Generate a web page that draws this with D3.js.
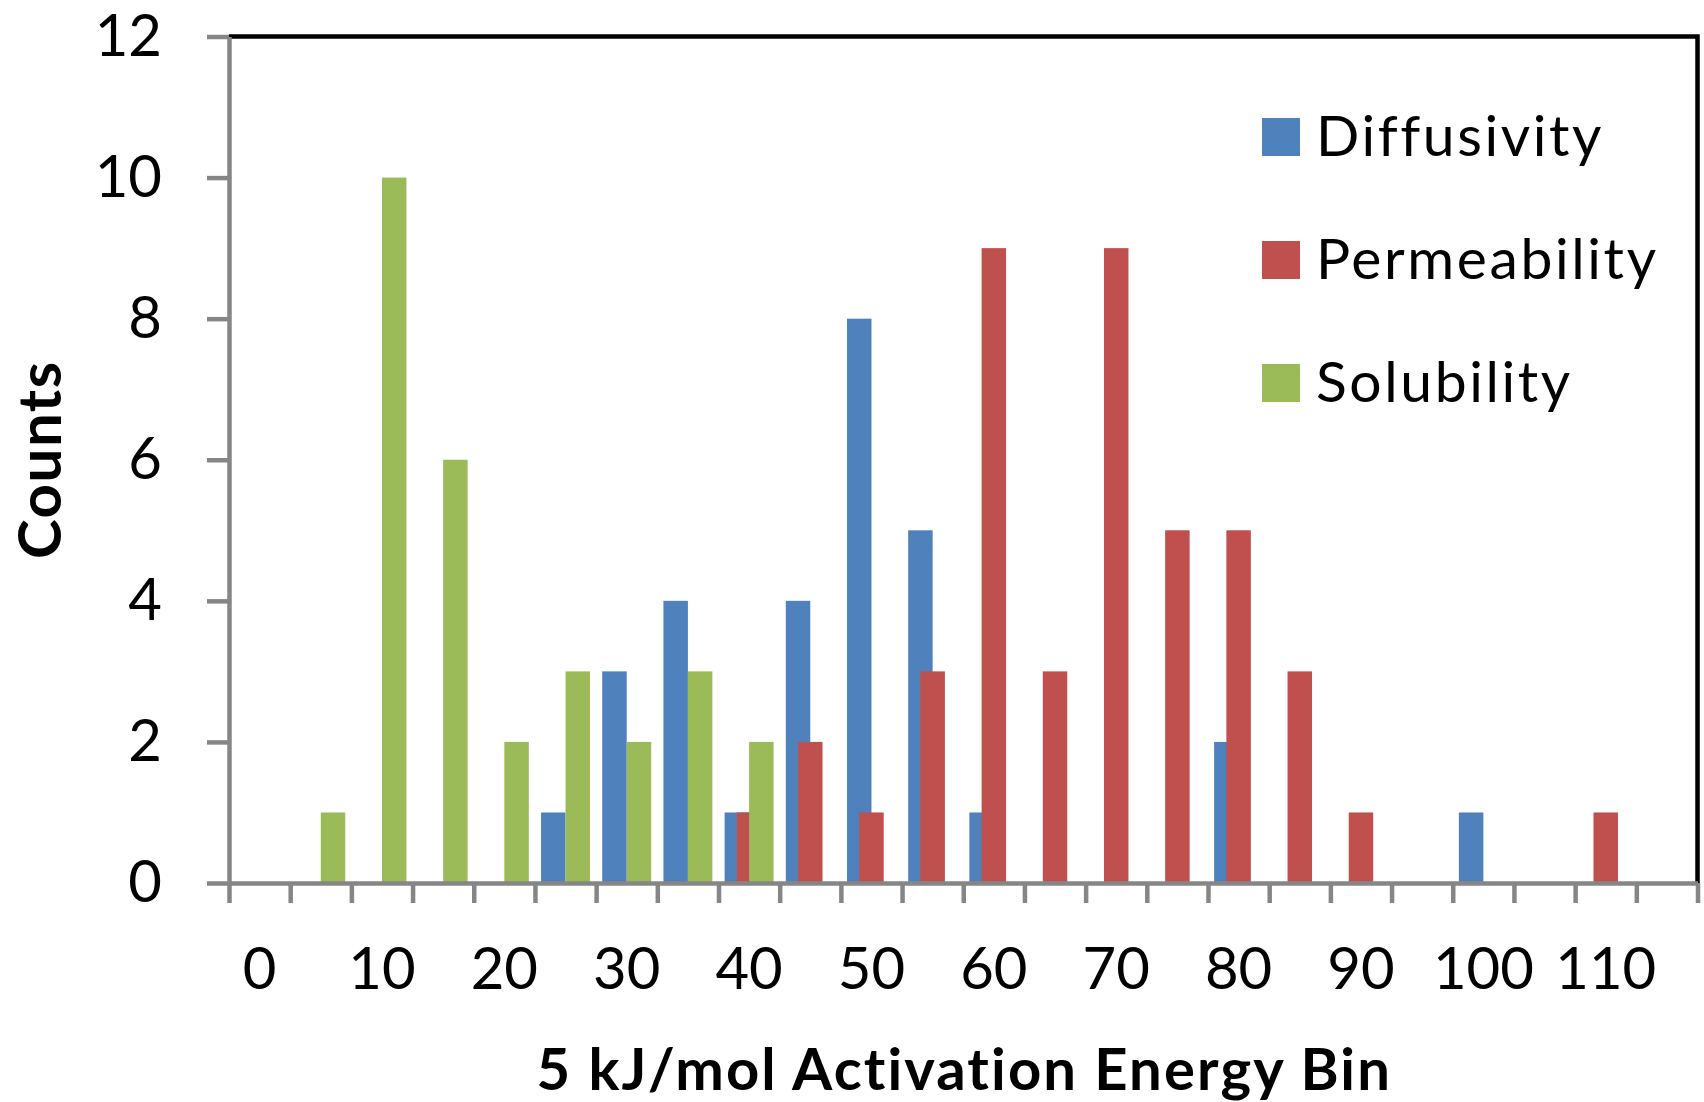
<!DOCTYPE html>
<html>
<head>
<meta charset="utf-8">
<script src="https://cdn.jsdelivr.net/npm/d3@7"></script>
<style>
  html, body { margin: 0; padding: 0; background: #ffffff; }
  svg { display: block; }
  text { font-family: Lato, "Open Sans", sans-serif; fill: #000; font-variant-ligatures: none; }
</style>
</head>
<body>
<svg id="chart" width="1704" height="1102"></svg>
<script>
// Activation energy bins (kJ/mol), 5 kJ/mol wide
const categories = [0, 5, 10, 15, 20, 25, 30, 35, 40, 45, 50, 55, 60, 65, 70, 75, 80, 85, 90, 95, 100, 105, 110, 115];

// Counts per bin for each property
const diffusivity   = [0, 0, 0, 0, 0, 1, 3, 4, 1, 4, 8, 5, 1, 0, 0, 0, 2, 0, 0, 0, 1, 0, 0, 0];
const permeability  = [0, 0, 0, 0, 0, 0, 0, 0, 1, 2, 1, 3, 9, 3, 9, 5, 5, 3, 1, 0, 0, 0, 1, 0];
const solubility    = [0, 1, 10, 6, 2, 3, 2, 3, 2, 0, 0, 0, 0, 0, 0, 0, 0, 0, 0, 0, 0, 0, 0, 0];

const seriesNames  = ["Diffusivity", "Permeability", "Solubility"];
const seriesColors = ["#4F81BD", "#C0504D", "#9BBB59"];

const xTickLabels = [0, 10, 20, 30, 40, 50, 60, 70, 80, 90, 100, 110];
const yTicks = [0, 2, 4, 6, 8, 10, 12];

const series = [diffusivity, permeability, solubility];

const svg = d3.select("#chart");
const plot = { left: 229, right: 1697.5, top: 36.5, bottom: 883 };
const axisGray = "#868686";
const lineW = 4.5;

// Scales
const x = d3.scaleBand()
  .domain(categories)
  .range([plot.left, plot.right])
  .paddingInner(0.2)
  .paddingOuter(0.1);

const xEdge = d3.scaleLinear()
  .domain([0, categories.length])
  .range([plot.left, plot.right]);

const y = d3.scaleLinear()
  .domain([0, 12])
  .range([plot.bottom, plot.top]);

// Plot frame: top and right edges
svg.append("path")
  .attr("d", `M${plot.left},${plot.top}H${plot.right}V${plot.bottom}`)
  .attr("fill", "none")
  .attr("stroke", "#000")
  .attr("stroke-width", lineW);

// Bars: clustered with 50% overlap, later series drawn on top
const barW = x.bandwidth() / 2;
const barStep = x.bandwidth() / 4;
series.forEach((vals, si) => {
  svg.append("g")
    .selectAll("rect")
    .data(categories.map((c, i) => ({ c, v: vals[i] })).filter(d => d.v > 0))
    .join("rect")
    .attr("x", d => x(d.c) + si * barStep)
    .attr("width", barW)
    .attr("y", d => y(d.v))
    .attr("height", d => y(0) - y(d.v))
    .attr("fill", seriesColors[si]);
});

// Y axis
const yAxis = svg.append("g")
  .attr("transform", `translate(${plot.left},0)`)
  .call(d3.axisLeft(y).tickValues(yTicks).tickSize(22).tickSizeOuter(0).tickFormat(""));
yAxis.select(".domain").attr("stroke", axisGray).attr("stroke-width", lineW);
yAxis.selectAll(".tick line").attr("stroke", axisGray).attr("stroke-width", lineW);

svg.append("g")
  .selectAll("text")
  .data(yTicks)
  .join("text")
  .attr("x", 162)
  .attr("y", d => y(d) + 19)
  .attr("text-anchor", "end")
  .attr("font-size", 58)
  .text(d => d);

// X axis: tick marks on bin boundaries
const xAxis = svg.append("g")
  .attr("transform", `translate(0,${plot.bottom})`)
  .call(d3.axisBottom(xEdge).ticks(categories.length).tickSize(20).tickSizeOuter(0).tickFormat(""));
xAxis.select(".domain").attr("stroke", axisGray).attr("stroke-width", lineW);
xAxis.selectAll(".tick line").attr("stroke", axisGray).attr("stroke-width", lineW);

// X labels at bin centres (every other bin)
svg.append("g")
  .selectAll("text")
  .data(xTickLabels)
  .join("text")
  .attr("x", d => x(d) + x.bandwidth() / 2)
  .attr("y", 989)
  .attr("text-anchor", "middle")
  .attr("font-size", 58)
  .text(d => d);

// Axis titles
svg.append("text")
  .attr("x", (plot.left + plot.right) / 2 + 1)
  .attr("y", 1090)
  .attr("text-anchor", "middle")
  .attr("font-size", 58)
  .attr("font-weight", "bold")
  .attr("letter-spacing", 2.1)
  .text("5 kJ/mol Activation Energy Bin");

svg.append("text")
  .attr("transform", `translate(61,${(plot.top + plot.bottom) / 2}) rotate(-90)`)
  .attr("text-anchor", "middle")
  .attr("font-size", 60)
  .attr("font-weight", "bold")
  .attr("letter-spacing", 1.5)
  .text("Counts");

// Legend
const legend = svg.append("g")
  .selectAll("g")
  .data(seriesNames)
  .join("g")
  .attr("transform", (d, i) => `translate(1262,${118 + i * 123})`);
legend.append("rect")
  .attr("width", 38)
  .attr("height", 38)
  .attr("fill", (d, i) => seriesColors[i]);
legend.append("text")
  .attr("x", 54)
  .attr("y", 38)
  .attr("font-size", 57)
  .attr("letter-spacing", 2.6)
  .text(d => d);
</script>
</body>
</html>
